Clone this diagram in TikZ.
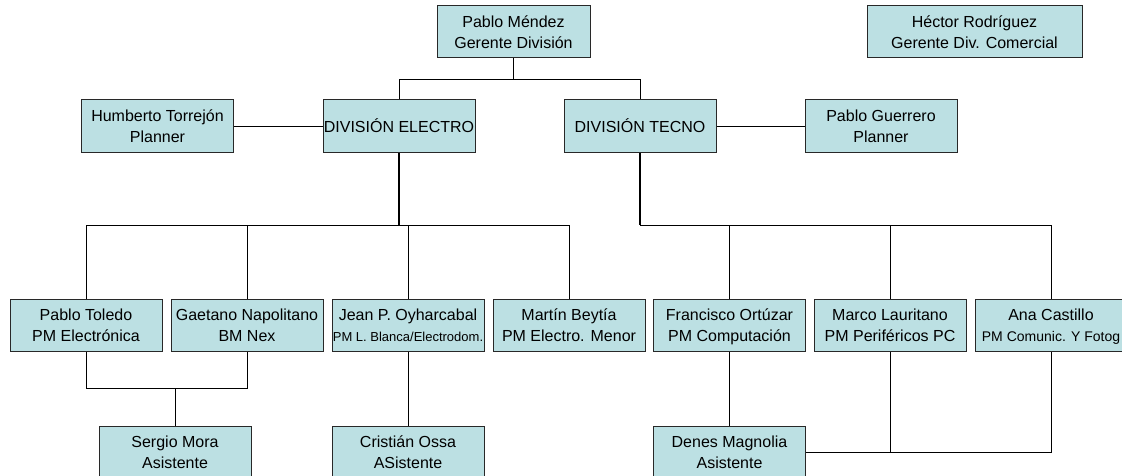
\documentclass[tikz,border=0pt]{standalone}
\usepackage{fontspec}
\setmainfont{Liberation Sans}
\definecolor{boxfill}{RGB}{188,224,227}
\definecolor{boxline}{RGB}{40,40,40}
\newcommand\lnstrut{\rule[-4.7pt]{0pt}{21pt}}
\tikzset{
  card/.style={draw=boxline, fill=boxfill, line width=1pt, minimum width=152pt, minimum height=52pt,
    inner sep=0pt, align=center, font=\fontsize{16}{21}\selectfont},
  link/.style={draw=black, line width=0.9pt},
  trunk/.style={draw=black, line width=1.6pt}
}
\begin{document}
\begin{tikzpicture}[x=1pt,y=-1pt]
\useasboundingbox (0,0) rectangle (1122,476);
% top
\node[card, minimum width=153pt] (mendez) at (513.5,32) {\lnstrut Pablo Méndez\\\lnstrut Gerente División};
\node[card, minimum width=215pt] (hector) at (974.5,32) {\lnstrut Héctor Rodríguez\\\lnstrut Gerente Div. Comercial};
% divisions
\node[card, minimum height=53pt] (electro) at (399,126.5) {\lnstrut DIVISIÓN ELECTRO};
\node[card, minimum height=53pt] (humberto) at (157.5,126.5) {\lnstrut Humberto Torrejón\\\lnstrut Planner};
\node[card, minimum height=53pt] (tecno) at (640,126.5) {\lnstrut DIVISIÓN TECNO};
\node[card, minimum height=53pt] (guerrero) at (881,126.5) {\lnstrut Pablo Guerrero\\\lnstrut Planner};
% managers
\node[card] (toledo) at (86,325) {\lnstrut Pablo Toledo\\\lnstrut PM Electrónica};
\node[card] (gaetano) at (247,325) {\lnstrut Gaetano Napolitano\\\lnstrut BM Nex};
\node[card] (jean) at (408,325) {\lnstrut Jean P. Oyharcabal\\{\fontsize{13}{21}\selectfont\lnstrut PM L. Blanca/Electrodom.}};
\node[card] (martin) at (569,325) {\lnstrut Martín Beytía\\\lnstrut PM Electro. Menor};
\node[card] (francisco) at (729.5,325) {\lnstrut Francisco Ortúzar\\\lnstrut PM Computación};
\node[card] (marco) at (890,325) {\lnstrut Marco Lauritano\\\lnstrut PM Periféricos PC};
\node[card] (ana) at (1051,325) {\lnstrut Ana Castillo\\{\fontsize{14}{21}\selectfont\lnstrut PM Comunic. Y Fotog}};
% assistants
\node[card] (sergio) at (175,452) {\lnstrut Sergio Mora\\\lnstrut Asistente};
\node[card] (cristian) at (408,452) {\lnstrut Cristián Ossa\\\lnstrut ASistente};
\node[card] (denes) at (729.5,452) {\lnstrut Denes Magnolia\\\lnstrut Asistente};
% bars
\coordinate (topbar) at (0,79);
\coordinate (ebar) at (0,225);
\coordinate (sbar) at (0,388);
% connectors
\draw[link] (mendez.south) -- (mendez.south |- topbar);
\draw[link] (electro.north) -- (electro.north |- topbar) -- (tecno.north |- topbar) -- (tecno.north);
\draw[link] (humberto) -- (electro);
\draw[link] (tecno) -- (guerrero);
\draw[trunk] (electro.south) -- (electro.south |- ebar);
\draw[link] (toledo.north) -- (toledo.north |- ebar) -- (martin.north |- ebar) -- (martin.north);
\draw[link] (gaetano.north) -- (gaetano.north |- ebar);
\draw[link] (jean.north) -- (jean.north |- ebar);
\draw[trunk] (tecno.south) -- (tecno.south |- ebar);
\draw[link] (tecno.south |- ebar) -- (ana.north |- ebar) -- (ana.north);
\draw[link] (francisco.north) -- (francisco.north |- ebar);
\draw[link] (marco.north) -- (marco.north |- ebar);
\draw[link] (toledo.south) -- (toledo.south |- sbar) -- (gaetano.south |- sbar) -- (gaetano.south);
\draw[link] (sergio.north) -- (sergio.north |- sbar);
\draw[link] (jean) -- (cristian);
\draw[link] (francisco) -- (denes);
\draw[link] (denes.east) -- (ana.south |- denes.east) -- (ana.south);
\draw[link] (marco.south) -- (marco.south |- denes.east);
\end{tikzpicture}
\end{document}
